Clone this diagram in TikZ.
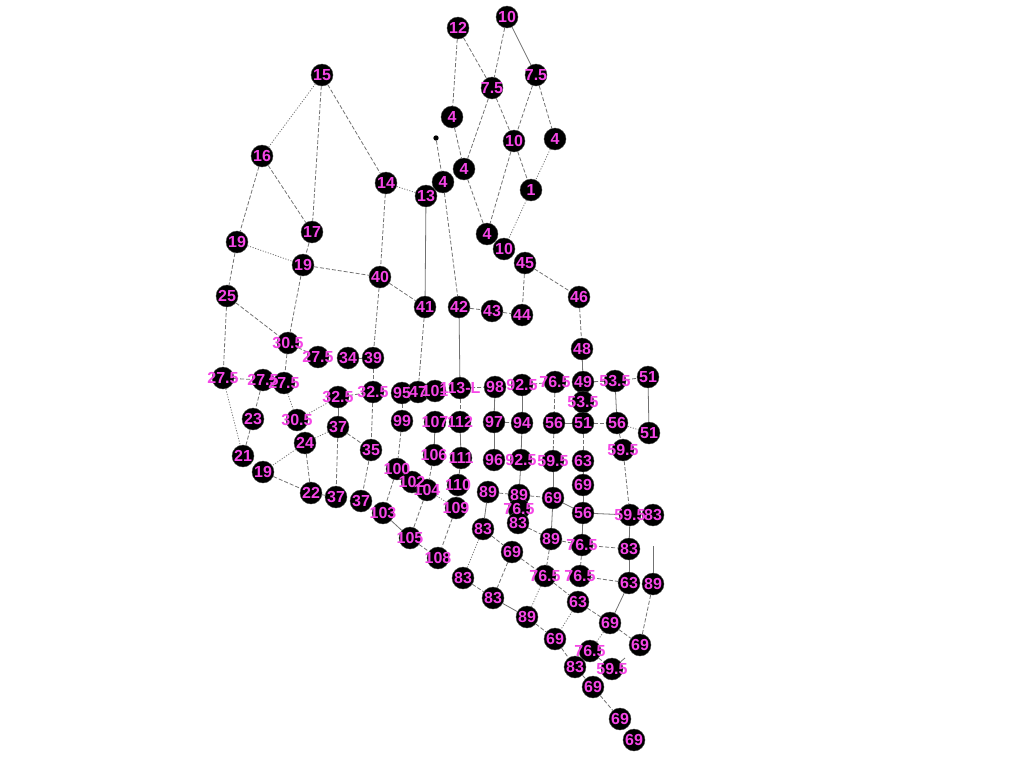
\documentclass[tikz,border=0pt]{standalone}
\usepackage{fontspec}
\setmainfont{Liberation Sans}
\definecolor{lbl}{RGB}{245,70,230}
\definecolor{eg}{RGB}{115,115,115}
\tikzset{
  cnode/.style={circle,fill=black,draw=black!70,line width=0.3pt,minimum size=16.5pt,inner sep=0pt},
  smalldot/.style={circle,fill=black,minimum size=4pt,inner sep=0pt},
  lab/.style={text=lbl,font=\fontsize{12}{12}\selectfont\bfseries,inner sep=0pt},
  es/.style={draw=eg,line width=0.6pt},
  ed/.style={draw=eg,line width=0.6pt,dash pattern=on 3pt off 1.5pt},
  eo/.style={draw=eg,line width=0.6pt,dash pattern=on 0.8pt off 1.2pt},
}
\def\nodelist{a12/458/28/12, a10/507/17/10, a75/492/88/7.5, b75/536/75/7.5, a4/452/117/4, b10/514/141/10, b4/555/139/4,
c4/464/169/4, d4/443/182/4, n1/531/190/1, e4/487/234/4, c10/504/249/10, n45/525/263/45, n15/322/75/15, n16/262/156/16,
n14/386/183/14, n13/426/196/13, n17/312/232/17, a19/237/242/19, b19/303/265/19, n40/380/277/40, n25/227/296/25,
n41/425/307/41, n42/459/307/42, n43/492/311/43, n44/522/315/44, n46/579/297/46, n48/582/349/48,
a305/288/343/30.5, a275/318/357/27.5, n34/348/358/34, n39/373/358/39, b275/223/378/27.5, c275/263/380/27.5, d275/284/383/27.5,
a325/338/397/32.5, b325/373/392/32.5, n95/402/393/95, n47/418/392/47, n101/435/391/101, n113/460/388/113-L, n98/495/387/98,
a925/522/385/92.5, a765/555/382/76.5, n49/583/382/49, a535/615/381/53.5, a51/648/377/51, b535/583/402/53.5,
n23/253/419/23, b305/297/420/30.5, a37/338/427/37, n99/402/421/99, n107/435/422/107, n112/460/422/112, n97/494/422/97,
n94/522/423/94, a56/554/423/56, b51/583/423/51, b56/617/423/56, c51/649/433/51, n24/305/443/24, n35/371/450/35,
a595/623/450/59.5, n21/243/456/21, c19/263/472/19, n106/434/455/106, n111/461/458/111, n96/494/460/96, b925/521/460/92.5,
b595/553/461/59.5, a63/583/461/63, n100/397/469/100, n102/412/482/102, n104/427/490/104, n110/458/485/110, a69/583/485/69,
a89/488/492/89, b89/519/495/89, b765/519/509/76.5, b69/553/498/69, n22/311/493/22, b37/336/497/37, c37/361/501/37,
n109/456/508/109, c56/583/513/56, c595/630/515/59.5, a83/653/515/83, n103/383/513/103, b83/483/529/83, c83/518/523/83,
c89/551/539/89, n105/410/538/105, c765/582/545/76.5, d83/629/549/83, c69/512/552/69, n108/438/558/108, d765/545/576/76.5,
e765/580/576/76.5, b63/629/583/63, d89/653/584/89, e83/463/578/83, f83/493/598/83, c63/578/602/63, e89/527/617/89,
d69/610/623/69, e69/640/645/69, f69/555/639/69, f765/590/651/76.5, d595/612/669/59.5, g83/575/667/83, g69/593/687/69,
h69/620/719/69, i69/634/740/69}
\begin{document}
\begin{tikzpicture}[x=0.75pt,y=-0.75pt]
\useasboundingbox (0,0) rectangle (1024,768);
\fill[white] (0,0) rectangle (1024,768);
% circles
\foreach \n/\x/\y/\t in \nodelist { \node[cnode] (\n) at (\x,\y) {}; }
\node[smalldot] (dot) at (436,138) {};
\coordinate (fa) at (653,546);
\coordinate (fb) at (625,658);
% solid edges
\foreach \a/\b in {a10/b75, n13/n41, n42/n113, a325/a37, n98/n97, n97/n96, n107/n106, n112/n111, n111/n110,
  a925/n94, a56/b51, n94/b925, b595/b69, a63/a69, a69/c56, b925/b89, b69/c56, n49/n48, a535/b56, a51/c51,
  c56/c595, n103/n105, n110/n109, a89/b83, b69/c89, f83/e89, c56/c765, d83/b63, d83/c595, b63/d69, d89/fa, d595/fb}
  { \draw[es] (\a) -- (\b); }
% dashed edges
\foreach \a/\b in {n15/n17, n15/n14, n16/n17, n16/a19, a12/a4, a12/a75, a10/a75, a75/b10, a75/c4, b75/b10, b75/b4,
  a4/c4, b10/n1, dot/d4, c4/e4, b10/e4, d4/n42, n14/n40, a19/n25, n17/b19, b19/n40, b19/a305, n25/a305, n25/b275,
  n40/n41, n40/n39, n41/n47, n42/n43, n43/n44, n45/n44, n45/n46, n46/n48, a305/a275, a305/d275, n34/n39, n39/b325,
  b275/c275, c275/n23, a325/b325, b325/n35, n23/n21, a37/n35, a37/b37, n24/n22, c19/n22, n22/b37, n35/c37,
  n99/n100, n95/n99, n113/n98, n113/n112, n97/n94, a925/a765, a765/a56, b51/b56, a56/b595, a63/b51, a89/b89, b89/b69,
  n49/a535, a535/a51, b56/a595, a595/c595, n106/n104, n100/n103, n104/n105, n105/n108, n109/n108, b83/c69, c83/c89,
  c69/f83, e83/f83, c69/d765, c89/d765, c89/c765, c765/d83, c765/e765, e765/b63, d765/c63, c63/d69, e89/f69,
  d69/e69, d89/e69, f69/g83, f765/d595, g83/g69, g69/h69}
  { \draw[ed] (\a) -- (\b); }
% dotted edges
\foreach \a/\b in {n15/n16, b4/n1, n14/n13, n1/c10, a19/b19, b275/n21, d275/b305, b305/a325, n24/a37, n24/c19,
  b56/c51, n104/n109, b83/e83, d765/e89, c63/f69, d69/f765}
  { \draw[eo] (\a) -- (\b); }
% labels
\foreach \n/\x/\y/\t in \nodelist { \node[lab] at (\n) {\t}; }
\end{tikzpicture}
\end{document}
